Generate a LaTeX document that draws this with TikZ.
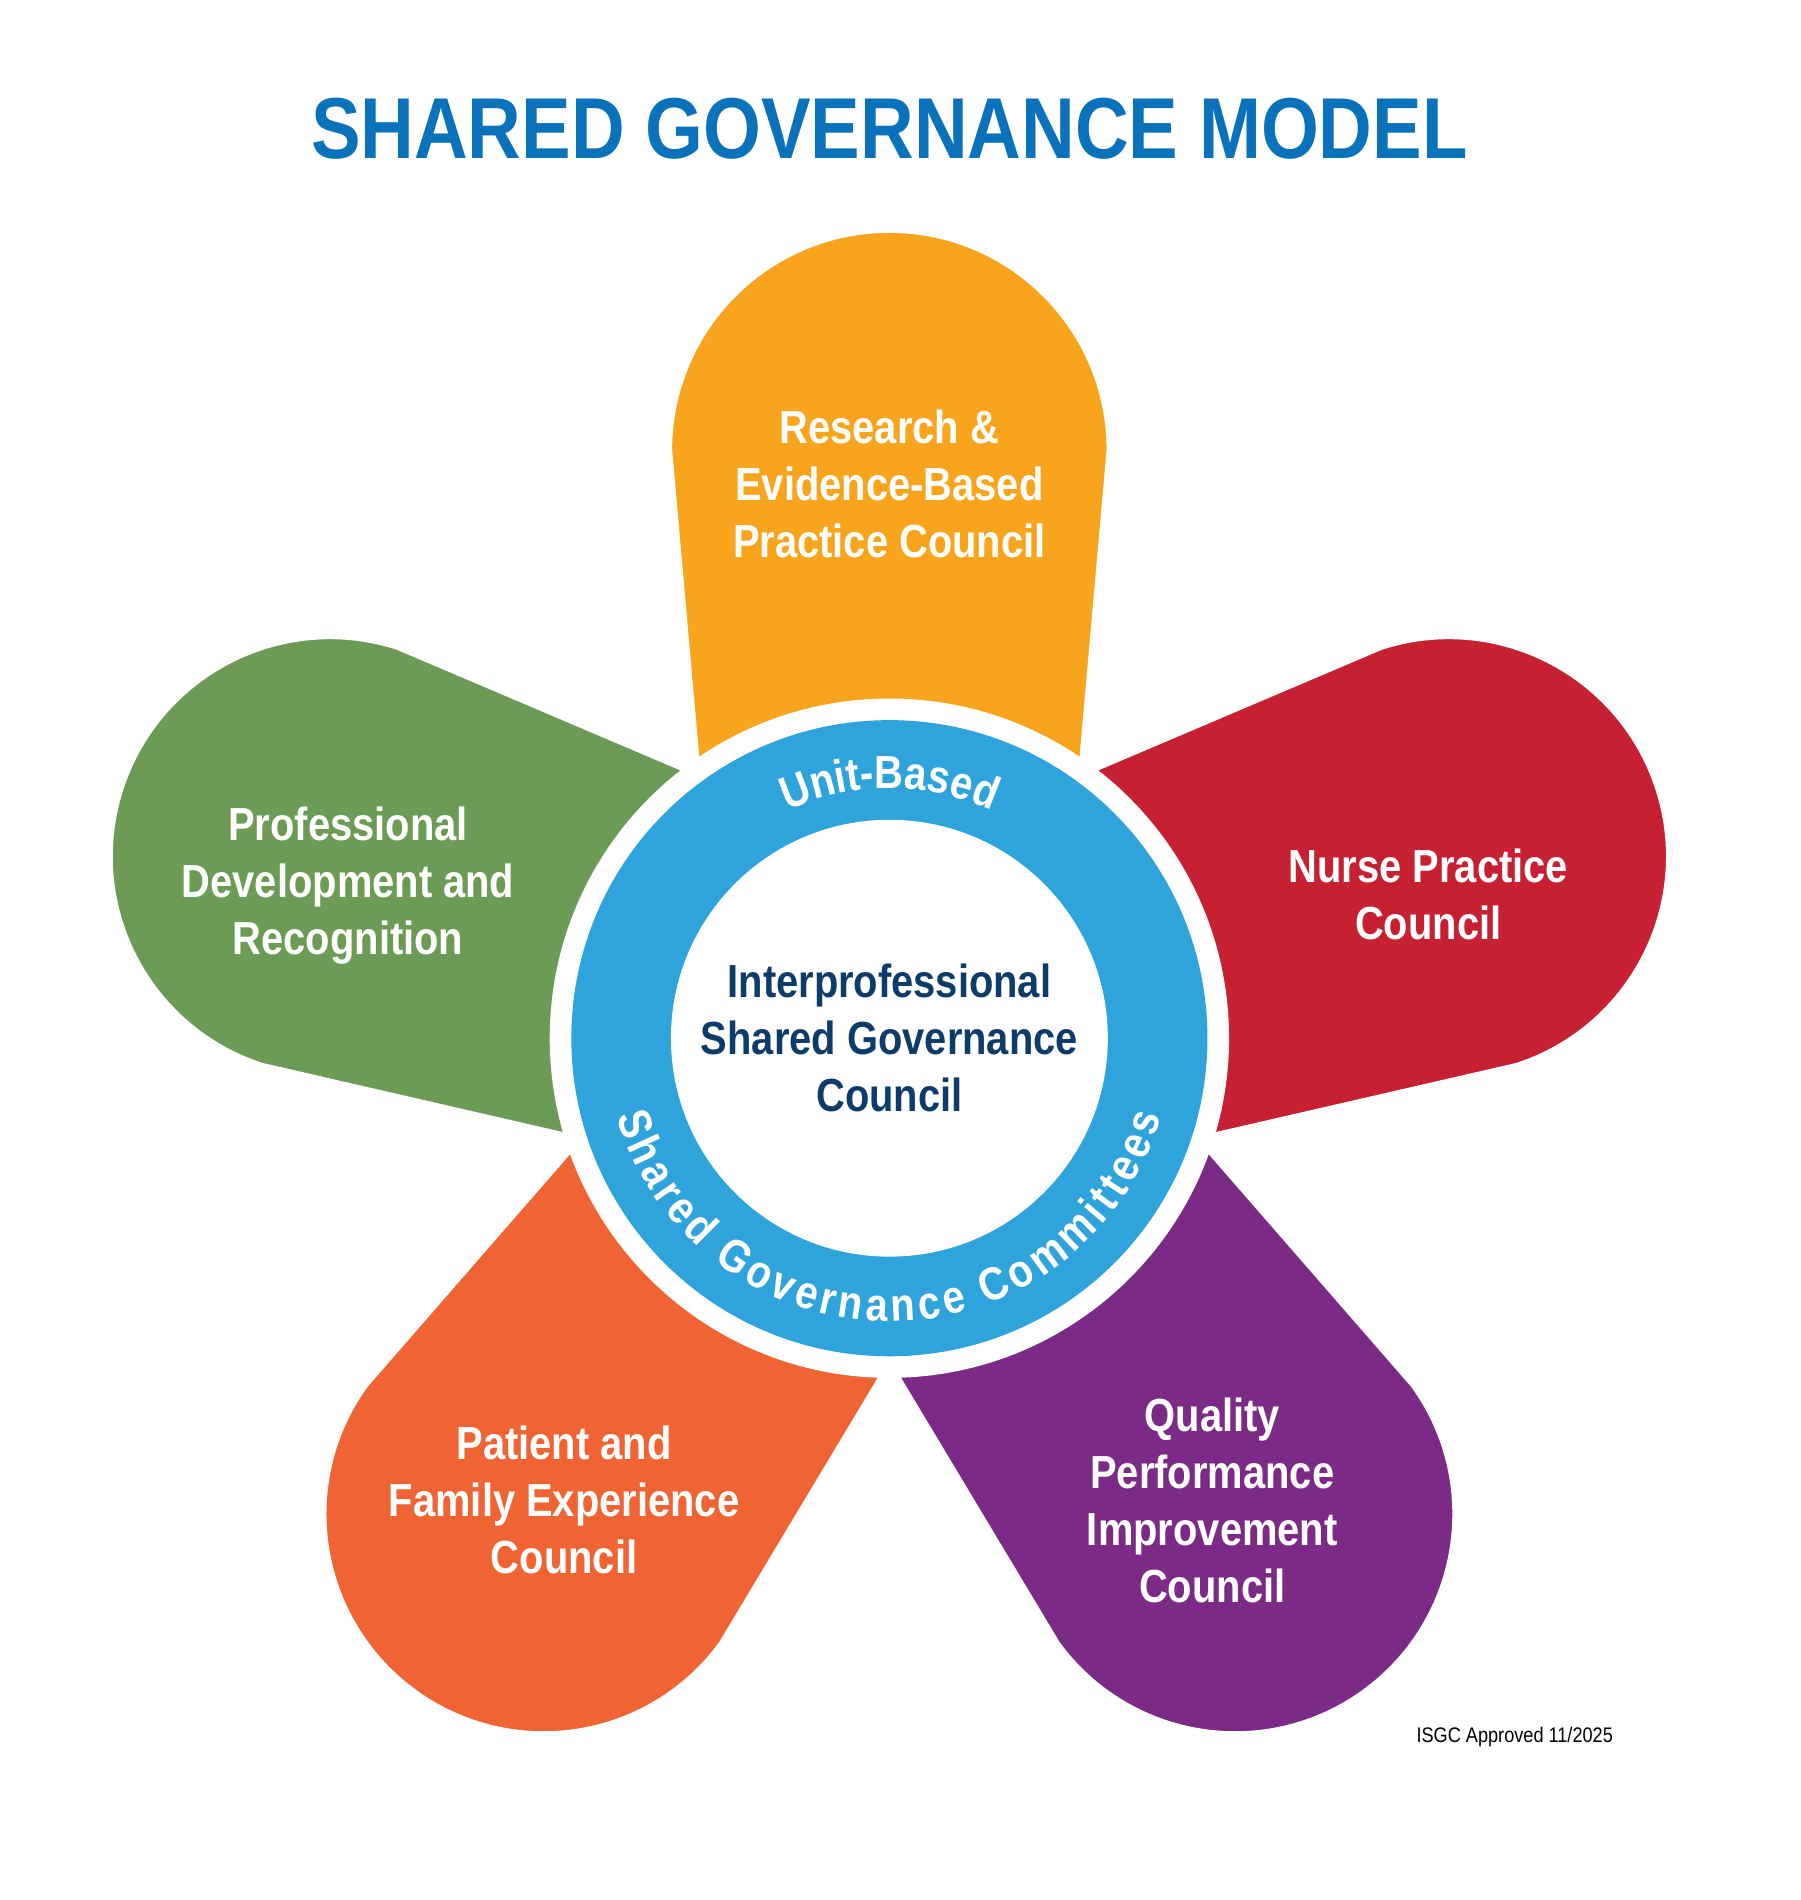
\documentclass[tikz,border=0pt]{standalone}
\usepackage{fontspec}
\setmainfont{Liberation Sans}[FakeStretch=0.86]
\usetikzlibrary{decorations.text,calc}
\definecolor{gorange}{HTML}{F8A51D}
\definecolor{gred}{HTML}{C72032}
\definecolor{gpurple}{HTML}{7B2A86}
\definecolor{gcoral}{HTML}{F06434}
\definecolor{ggreen}{HTML}{6B9B54}
\definecolor{gblue}{HTML}{2FA3DB}
\definecolor{gnavy}{HTML}{0D3C6A}
\definecolor{gtitle}{HTML}{0A72BA}
\begin{document}
\begin{tikzpicture}
[x=0.02cm, y=0.02cm,
 petal/.style={draw=white, line width=8pt, line join=round},
 label/.style={text=white, font=\fontsize{22}{27}\selectfont\bfseries, align=center}]
\useasboundingbox (0,0) rectangle (1500,1583);
\coordinate (c) at (741,718);
\node[text=gtitle, font=\fontsize{41}{44}\selectfont\bfseries] (title) at (741,1476) {SHARED GOVERNANCE MODEL};
% petals
\foreach \ang/\col in {90/gorange,18/gred,-54/gpurple,-126/gcoral,162/ggreen}
  \filldraw[petal, fill=\col, shift={(c)}, rotate=\ang]
    (150,-158) -- (490,-188) arc(-90:90:188) -- (150,158) -- cycle;
% centre rings
\fill[white] (c) circle (283);
\fill[gblue] (c) circle (265);
\fill[white] (c) circle (182);
\path[decorate, decoration={text along path, text align=center, text color=white,
  text={|\fontsize{22}{26}\selectfont\bfseries|Unit-Based}}]
  ($(c)+(150:208)$) arc(150:30:208);
\path[decorate, decoration={text along path, text align=fit to path, text color=white,
  text={|\fontsize{22}{26}\selectfont\bfseries|Shared Governance Committees}}]
  ($(c)+(196:236)$) arc(196:344:236);
% labels
\node[label] (rebp) at (741,1180) {Research \&\\Evidence-Based\\Practice Council};
\node[label] (npc) at (1190,838) {Nurse Practice\\Council};
\node[label] (qpi) at (1010,333) {Quality\\Performance\\Improvement\\Council};
\node[label] (pfe) at (470,333) {Patient and\\Family Experience\\Council};
\node[label] (pdr) at (290,845) {Professional\\Development and\\Recognition};
\node[text=gnavy, font=\fontsize{22}{27}\selectfont\bfseries, align=center] (isgc) at (c) {Interprofessional\\Shared Governance\\Council};
\node[font=\fontsize{10}{12}\selectfont] (note) at (1262,136) {ISGC Approved 11/2025};
\end{tikzpicture}
\end{document}
